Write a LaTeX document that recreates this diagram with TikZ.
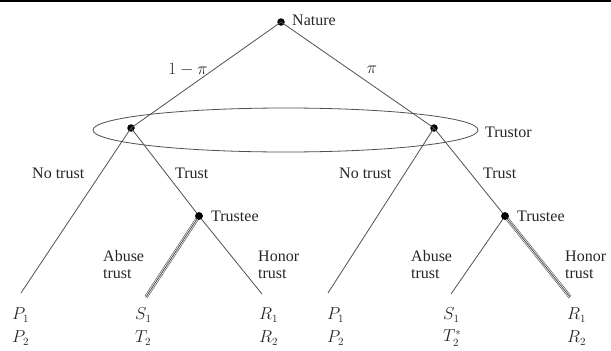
\documentclass[tikz,border=0pt]{standalone}
\usepackage{fontspec}
\setmainfont{Liberation Serif}
\usetikzlibrary{positioning, shapes.geometric}
\definecolor{treegray}{RGB}{80,80,80}

\begin{document}
\begin{tikzpicture}[
  x=1pt, y=-1pt,
  dot/.style={circle, fill=black, inner sep=0pt, minimum size=7.5pt},
  branch/.style={line width=0.8pt, treegray},
  chosen/.style={line width=0.6pt, treegray, double=white, double distance=2.2pt},
  lbl/.style={font=\fontsize{16}{17}\selectfont, inner sep=0pt, text=black!85},
  pay/.style={lbl, anchor=west}
]
  \useasboundingbox (0,0) rectangle (611,351);
  \draw[line width=1.5pt] (0,0.75) -- (611,0.75);

  % decision nodes
  \node[dot] (nature) at (281,22) {};
  \node[dot] (trustorL) at (131,128) {};
  \node[dot] (trustorR) at (434,128) {};
  \node[dot] (trusteeL) at (199,216) {};
  \node[dot] (trusteeR) at (505,216) {};
  \node[draw, treegray, line width=0.8pt, ellipse, minimum width=385pt,
        minimum height=44pt, inner sep=0pt] (infoset) at (285.5,130) {};

  % end points of the branches
  \coordinate (noL) at (21,293);
  \coordinate (abuseL) at (146,297);
  \coordinate (honorL) at (262,294);
  \coordinate (noR) at (328,293);
  \coordinate (abuseR) at (451,294);
  \coordinate (honorR) at (570,297);

  \draw[branch] (nature.center) -- (trustorL.center);
  \draw[branch] (nature.center) -- (trustorR.center);
  \draw[branch] (trustorL.center) -- (noL);
  \draw[branch] (trustorL.center) -- (trusteeL.center);
  \draw[chosen] (trusteeL.center) -- (abuseL);
  \draw[branch] (trusteeL.center) -- (abuseL);
  \draw[branch] (trusteeL.center) -- (honorL);
  \draw[branch] (trustorR.center) -- (noR);
  \draw[branch] (trustorR.center) -- (trusteeR.center);
  \draw[branch] (trusteeR.center) -- (abuseR);
  \draw[chosen] (trusteeR.center) -- (honorR);
  \draw[branch] (trusteeR.center) -- (honorR);
  \node[dot] at (trusteeL) {};
  \node[dot] at (trusteeR) {};

  % labels
  \node[lbl, anchor=west] (natureLbl) at (292,20) {Nature};
  \node[lbl] (probL) at (188,70) {$1-\pi$};
  \node[lbl] (probR) at (372,70) {$\pi$};
  \node[lbl, anchor=west] (trustorLbl) at (485,132) {Trustor};
  \node[lbl, anchor=west] (noLblL) at (32,173) {No trust};
  \node[lbl, anchor=west] (trustLblL) at (175,173) {Trust};
  \node[lbl, anchor=west] (noLblR) at (339,173) {No trust};
  \node[lbl, anchor=west] (trustLblR) at (483,173) {Trust};
  \node[lbl, anchor=west] (trusteeLblL) at (211,216) {Trustee};
  \node[lbl, anchor=west] (trusteeLblR) at (517,216) {Trustee};
  \node[lbl, anchor=west, align=left] (abuseLblL) at (103,265) {Abuse\\trust};
  \node[lbl, anchor=west, align=left] (honorLblL) at (258,265) {Honor\\trust};
  \node[lbl, anchor=west, align=left] (abuseLblR) at (411,265) {Abuse\\trust};
  \node[lbl, anchor=west, align=left] (honorLblR) at (565,265) {Honor\\trust};

  % payoffs
  \node[pay] (p1L) at (12,315) {$P_1$};
  \node[pay] (p2L) at (12,338) {$P_2$};
  \node[pay] (s1L) at (135,315) {$S_1$};
  \node[pay] (t2L) at (135,338) {$T_2$};
  \node[pay] (r1L) at (259,315) {$R_1$};
  \node[pay] (r2L) at (259,338) {$R_2$};
  \node[pay] (p1R) at (327,315) {$P_1$};
  \node[pay] (p2R) at (327,338) {$P_2$};
  \node[pay] (s1R) at (443,315) {$S_1$};
  \node[pay] (t2R) at (443,338) {$T_2^*$};
  \node[pay] (r1R) at (567,315) {$R_1$};
  \node[pay] (r2R) at (567,338) {$R_2$};
\end{tikzpicture}
\end{document}
